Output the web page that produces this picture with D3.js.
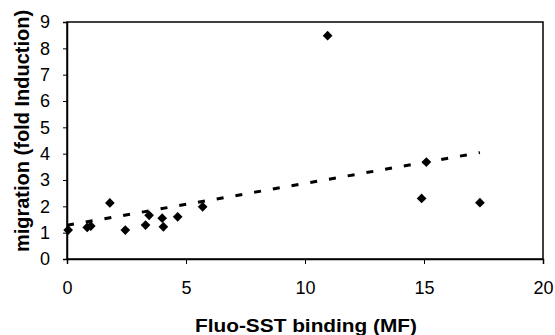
<!DOCTYPE html>
<html>
<head>
<meta charset="utf-8">
<script src="https://cdn.jsdelivr.net/npm/d3@7"></script>
<style>
  body { margin: 0; background: #fff; }
  text { font-family: "Liberation Sans", Arial, sans-serif; fill: #000; }
</style>
</head>
<body>
<svg id="chart" width="555" height="335"></svg>
<script>
// points
const bindingMF = [0.05, 0.85, 1.0, 1.8, 2.45, 3.3, 3.45, 4.0, 4.05, 4.65, 5.7, 10.95, 14.9, 15.1, 17.35];
const foldInduction = [1.1, 1.2, 1.25, 2.13, 1.1, 1.29, 1.66, 1.55, 1.22, 1.6, 1.98, 8.48, 2.3, 3.68, 2.14];
// linear trend line ends
const trendX = [0, 17.35];
const trendY = [1.28, 4.04];
const xTicks = [0, 5, 10, 15, 20];
const yTicks = [0, 1, 2, 3, 4, 5, 6, 7, 8, 9];

const svg = d3.select('#chart');
const plotL = 67, plotR = 543, plotT = 22, plotB = 259;

const x = d3.scaleLinear().domain([0, 20]).range([plotL, plotR]);
const y = d3.scaleLinear().domain([0, 9]).range([plotB, plotT]);

// plot frame
svg.append('rect').attr('x', plotL).attr('y', plotT).attr('width', plotR - plotL).attr('height', plotB - plotT)
  .attr('fill', 'none').attr('stroke', '#000').attr('stroke-width', 1.5);

const xAxis = d3.axisBottom(x).tickValues(xTicks).tickSize(5).tickPadding(17);
const yAxis = d3.axisLeft(y).tickValues(yTicks).tickSize(4).tickPadding(13);

const gx = svg.append('g').attr('transform', 'translate(0,' + plotB + ')').call(xAxis);
const gy = svg.append('g').attr('transform', 'translate(' + plotL + ',0)').call(yAxis);
[gx, gy].forEach(function (g) {
  g.select('.domain').attr('stroke-width', 1.5);
  g.selectAll('.tick line').attr('stroke-width', 1);
  g.selectAll('.tick text').attr('font-size', 18).attr('font-family', '"Liberation Sans", Arial, sans-serif');
});

// dashed trend line
const line = d3.line().x(function (d) { return x(d[0]); }).y(function (d) { return y(d[1]); });
svg.append('path').attr('d', line(d3.zip(trendX, trendY)))
  .attr('fill', 'none').attr('stroke', '#000').attr('stroke-width', 3).attr('stroke-dasharray', '7,12');

// diamond markers
const diamond = d3.symbol().type(d3.symbolDiamond2).size(60);
svg.selectAll('.dot').data(d3.zip(bindingMF, foldInduction)).enter().append('path')
  .attr('class', 'dot')
  .attr('d', diamond)
  .attr('transform', function (d) { return 'translate(' + x(d[0]) + ',' + y(d[1]) + ')'; })
  .attr('fill', '#000');

svg.append('text').attr('x', 306).attr('y', 332).attr('text-anchor', 'middle')
  .attr('font-size', 19).attr('font-weight', 'bold')
  .attr('textLength', 222).attr('lengthAdjust', 'spacingAndGlyphs')
  .text('Fluo-SST binding (MF)');
svg.append('text').attr('transform', 'translate(29,131) rotate(-90)').attr('text-anchor', 'middle')
  .attr('font-size', 20).attr('font-weight', 'bold').text('migration (fold Induction)');
</script>
</body>
</html>
